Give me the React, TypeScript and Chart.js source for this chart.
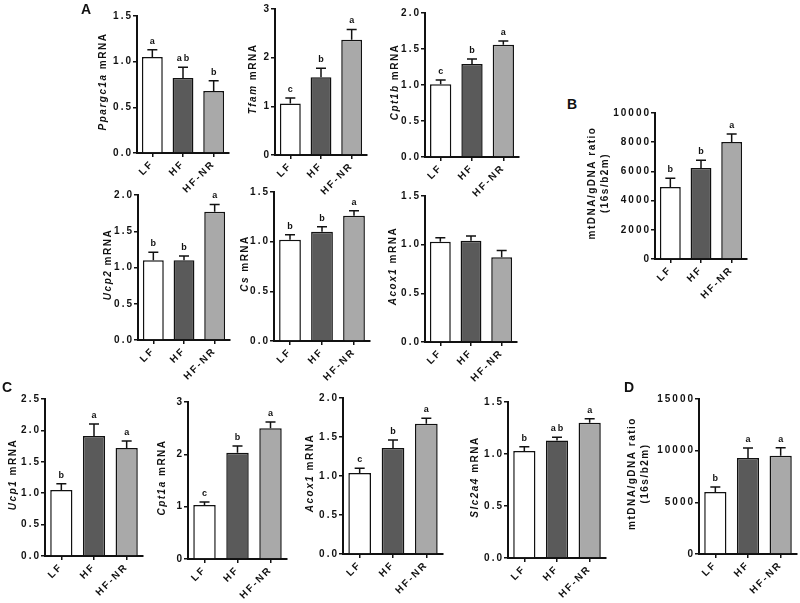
import React, { useEffect, useRef } from 'react';
import { Chart, registerables } from 'chart.js';
Chart.register(...registerables);

const groups = ['LF', 'HF', 'HF-NR'];
const barColors = ['#ffffff', '#5a5a5a', '#a9a9a9'];

// Panel A (row 1)
const ppargc1aMean = [1.05, 0.82, 0.68];
const ppargc1aSem = [0.08, 0.12, 0.11];
const ppargc1aLetters = ['a', 'ab', 'b'];
const tfamMean = [1.06, 1.6, 2.37];
const tfamSem = [0.11, 0.18, 0.21];
const tfamLetters = ['c', 'b', 'a'];
const cpt1bMean = [1.01, 1.29, 1.56];
const cpt1bSem = [0.06, 0.07, 0.05];
const cpt1bLetters = ['c', 'b', 'a'];
// Panel A (row 2)
const ucp2Mean = [1.1, 1.1, 1.77];
const ucp2Sem = [0.11, 0.06, 0.1];
const ucp2Letters = ['b', 'b', 'a'];
const csMean = [1.02, 1.1, 1.26];
const csSem = [0.05, 0.05, 0.05];
const csLetters = ['b', 'b', 'a'];
const acox1AMean = [1.03, 1.04, 0.87];
const acox1ASem = [0.04, 0.05, 0.07];
const acox1ALetters = ['', '', ''];
// Panel B
const mtdnaBMean = [4930, 6230, 8010];
const mtdnaBSem = [600, 530, 550];
const mtdnaBLetters = ['b', 'b', 'a'];
// Panel C
const ucp1Mean = [1.05, 1.91, 1.72];
const ucp1Sem = [0.1, 0.19, 0.11];
const ucp1Letters = ['b', 'a', 'a'];
const cpt1aMean = [1.03, 2.03, 2.5];
const cpt1aSem = [0.06, 0.13, 0.12];
const cpt1aLetters = ['c', 'b', 'a'];
const acox1CMean = [1.04, 1.36, 1.67];
const acox1CSem = [0.06, 0.1, 0.07];
const acox1CLetters = ['c', 'b', 'a'];
const slc2a4Mean = [1.03, 1.13, 1.3];
const slc2a4Sem = [0.04, 0.03, 0.04];
const slc2a4Letters = ['b', 'ab', 'a'];
// Panel D
const mtdnaDMean = [6000, 9300, 9500];
const mtdnaDSem = [480, 960, 780];
const mtdnaDLetters = ['b', 'a', 'a'];

type Seg = { text: string; italic?: boolean };
type Panel = {
  mean: number[]; sem: number[]; letters: string[];
  title: Seg[][]; max: number; step: number; decimals: number;
  axisX: number; topY: number; zeroY: number; rightX: number; titleOffsets: number[];
};

const gene = (g: string): Seg[][] => [[{ text: g, italic: true }, { text: ' mRNA' }]];
const mtTitle: Seg[][] = [[{ text: 'mtDNA/gDNA ratio' }], [{ text: '(16s/b2m)' }]];

const panels: Panel[] = [
  { mean: ppargc1aMean, sem: ppargc1aSem, letters: ppargc1aLetters, title: gene('Ppargc1a'), max: 1.5, step: 0.5, decimals: 1, axisX: 137, topY: 16, zeroY: 153, rightX: 229, titleOffsets: [34] },
  { mean: tfamMean, sem: tfamSem, letters: tfamLetters, title: gene('Tfam'), max: 3, step: 1, decimals: 0, axisX: 275, topY: 9, zeroY: 155, rightX: 367, titleOffsets: [22] },
  { mean: cpt1bMean, sem: cpt1bSem, letters: cpt1bLetters, title: gene('Cpt1b'), max: 2, step: 0.5, decimals: 1, axisX: 425, topY: 13, zeroY: 157, rightX: 519, titleOffsets: [30] },
  { mean: ucp2Mean, sem: ucp2Sem, letters: ucp2Letters, title: gene('Ucp2'), max: 2, step: 0.5, decimals: 1, axisX: 138, topY: 195, zeroY: 340, rightX: 230, titleOffsets: [30] },
  { mean: csMean, sem: csSem, letters: csLetters, title: gene('Cs'), max: 1.5, step: 0.5, decimals: 1, axisX: 274, topY: 192, zeroY: 341, rightX: 370, titleOffsets: [29] },
  { mean: acox1AMean, sem: acox1ASem, letters: acox1ALetters, title: gene('Acox1'), max: 1.5, step: 0.5, decimals: 1, axisX: 425, topY: 196, zeroY: 342, rightX: 517, titleOffsets: [32] },
  { mean: mtdnaBMean, sem: mtdnaBSem, letters: mtdnaBLetters, title: mtTitle, max: 10000, step: 2000, decimals: 0, axisX: 655, topY: 113, zeroY: 259, rightX: 747, titleOffsets: [63, 50] },
  { mean: ucp1Mean, sem: ucp1Sem, letters: ucp1Letters, title: gene('Ucp1'), max: 2.5, step: 0.5, decimals: 1, axisX: 45, topY: 399, zeroY: 556, rightX: 143, titleOffsets: [32] },
  { mean: cpt1aMean, sem: cpt1aSem, letters: cpt1aLetters, title: gene('Cpt1a'), max: 3, step: 1, decimals: 0, axisX: 188, topY: 402, zeroY: 559, rightX: 287, titleOffsets: [26] },
  { mean: acox1CMean, sem: acox1CSem, letters: acox1CLetters, title: gene('Acox1'), max: 2, step: 0.5, decimals: 1, axisX: 343, topY: 398, zeroY: 554, rightX: 443, titleOffsets: [33] },
  { mean: slc2a4Mean, sem: slc2a4Sem, letters: slc2a4Letters, title: gene('Slc2a4'), max: 1.5, step: 0.5, decimals: 1, axisX: 508, topY: 402, zeroY: 558, rightX: 606, titleOffsets: [33] },
  { mean: mtdnaDMean, sem: mtdnaDSem, letters: mtdnaDLetters, title: mtTitle, max: 15000, step: 5000, decimals: 0, axisX: 699, topY: 399, zeroY: 554, rightX: 797, titleOffsets: [67, 54] },
];

const FONT = '"Liberation Sans", Arial, Helvetica, sans-serif';
const YW = 72;
const XH = 52;
const PAD_TOP = 14;
const PAD_RIGHT = 2;
const INK = '#111111';

function PanelChart({ p }: { p: Panel }) {
  const ref = useRef<HTMLCanvasElement | null>(null);
  const width = p.rightX - p.axisX + YW + PAD_RIGHT;
  const height = p.zeroY - p.topY + PAD_TOP + XH;

  useEffect(() => {
    const canvas = ref.current;
    if (!canvas) return;
    const plugin = {
      id: 'gpStyle',
      beforeDraw(chart: any) {
        chart.ctx.letterSpacing = '2px';
      },
      afterDatasetsDraw(chart: any) {
        const ctx = chart.ctx;
        const meta = chart.getDatasetMeta(0);
        const ys = chart.scales.y;
        ctx.save();
        ctx.strokeStyle = INK;
        ctx.lineWidth = 1.5;
        p.mean.forEach((m, i) => {
          const x = meta.data[i].x;
          const y0 = ys.getPixelForValue(m);
          const y1 = ys.getPixelForValue(m + p.sem[i]);
          ctx.beginPath();
          ctx.moveTo(x, y0);
          ctx.lineTo(x, y1);
          ctx.moveTo(x - 5, y1);
          ctx.lineTo(x + 5, y1);
          ctx.stroke();
          const letter = p.letters[i];
          if (letter) {
            ctx.font = `bold 9px ${FONT}`;
            ctx.letterSpacing = '2px';
            ctx.textAlign = 'center';
            ctx.textBaseline = 'bottom';
            ctx.fillStyle = INK;
            ctx.fillText(letter, x + 1, y1 - 4);
          }
        });
        ctx.restore();
      },
      afterDraw(chart: any) {
        const ctx = chart.ctx;
        const { left, top, bottom } = chart.chartArea;
        const cy = (top + bottom) / 2 - 3;
        ctx.save();
        ctx.letterSpacing = '1.5px';
        ctx.fillStyle = INK;
        ctx.textBaseline = 'middle';
        ctx.textAlign = 'left';
        p.title.forEach((line, li) => {
          const cx = left - p.titleOffsets[li];
          const fonts = line.map((s) => `${s.italic ? 'italic ' : ''}bold 10px ${FONT}`);
          const widths = line.map((s, si) => {
            ctx.font = fonts[si];
            return ctx.measureText(s.text).width;
          });
          const total = widths.reduce((a, b) => a + b, 0);
          ctx.save();
          ctx.translate(cx, cy);
          ctx.rotate(-Math.PI / 2);
          let x = -total / 2;
          line.forEach((s, si) => {
            ctx.font = fonts[si];
            ctx.fillText(s.text, x, 0);
            x += widths[si];
          });
          ctx.restore();
        });
        ctx.restore();
      },
    };

    const tickFont = { family: FONT, size: 10, weight: 'bold' as const };
    const chart = new Chart(canvas, {
      type: 'bar',
      data: {
        labels: groups,
        datasets: [
          {
            data: p.mean,
            backgroundColor: barColors,
            borderColor: INK,
            borderWidth: 1.5,
            barPercentage: 0.68,
            categoryPercentage: 1.0,
          },
        ],
      },
      options: {
        responsive: false,
        animation: false,
        devicePixelRatio: 1,
        layout: { padding: { top: PAD_TOP, right: PAD_RIGHT, left: 0, bottom: 0 } },
        plugins: { legend: { display: false }, tooltip: { enabled: false }, title: { display: false } },
        scales: {
          x: {
            type: 'category',
            offset: true,
            grid: { offset: false, drawOnChartArea: false, drawTicks: true, tickLength: 4, color: INK, lineWidth: 1.5 },
            border: { display: true, color: INK, width: 2 },
            ticks: { maxRotation: 45, minRotation: 45, autoSkip: false, padding: 1, font: tickFont, color: INK },
            afterFit: (s: any) => { s.height = XH; },
          },
          y: {
            min: 0,
            max: p.max,
            grid: { drawOnChartArea: false, drawTicks: true, tickLength: 4, color: INK, lineWidth: 1.5 },
            border: { display: true, color: INK, width: 2 },
            ticks: {
              stepSize: p.step,
              padding: 0,
              font: tickFont,
              color: INK,
              callback: (v: any) => Number(v).toFixed(p.decimals),
            },
            afterFit: (s: any) => { s.width = YW; },
          },
        },
      },
      plugins: [plugin],
    } as any);
    return () => chart.destroy();
  }, [p]);

  return (
    <canvas
      ref={ref}
      width={width}
      height={height}
      style={{ position: 'absolute', left: p.axisX - YW, top: p.topY - PAD_TOP, width, height }}
    />
  );
}

const panelLetters = [
  { text: 'A', x: 81, y: 2 },
  { text: 'B', x: 567, y: 97 },
  { text: 'C', x: 2, y: 380 },
  { text: 'D', x: 624, y: 380 },
];

export default function App() {
  return (
    <div style={{ position: 'fixed', left: 0, top: 0, width: 800, height: 603, background: '#ffffff', overflow: 'hidden' }}>
      {panels.map((p, i) => (
        <PanelChart key={i} p={p} />
      ))}
      {panelLetters.map((l) => (
        <div
          key={l.text}
          style={{ position: 'absolute', left: l.x, top: l.y, font: `bold 14px ${FONT}`, lineHeight: '14px', color: INK }}
        >
          {l.text}
        </div>
      ))}
    </div>
  );
}
